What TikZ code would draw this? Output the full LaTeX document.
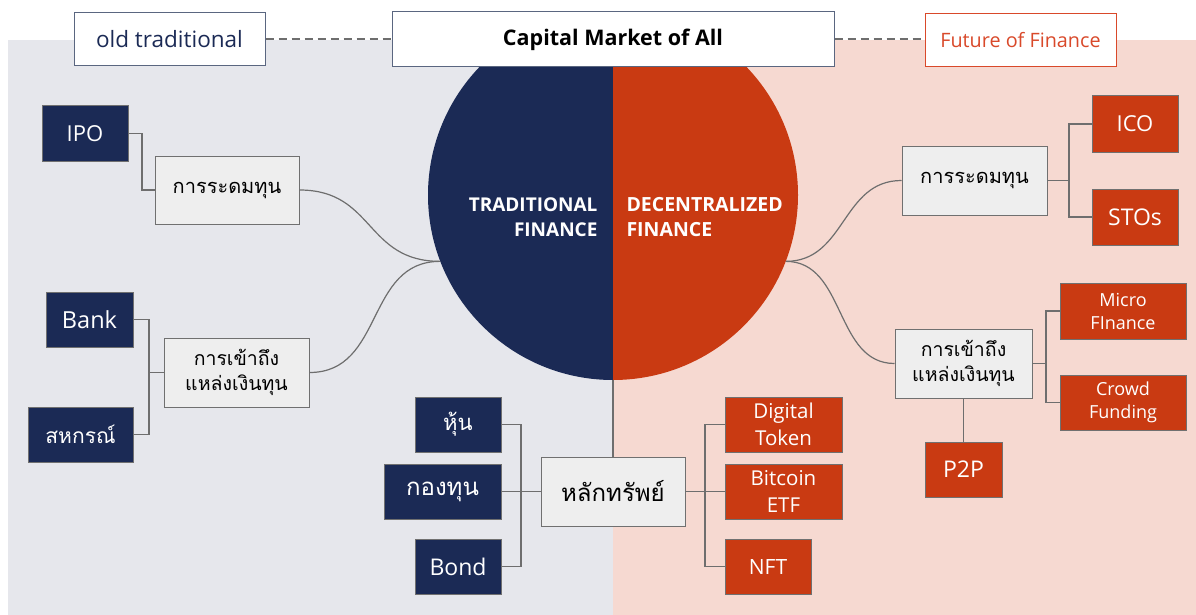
\documentclass[tikz,border=0pt]{standalone}
\usepackage{fontspec}
\setmainfont{Open Sans}
\newfontfamily\thai[Script=Thai]{Loma}
\definecolor{navy}{HTML}{1B2A55}
\definecolor{orangec}{HTML}{C93A12}
\definecolor{futorange}{HTML}{D9492A}
\definecolor{leftbg}{HTML}{E6E7EC}
\definecolor{rightbg}{HTML}{F6D9D1}
\definecolor{lightbox}{HTML}{EEEEEE}
\definecolor{bordergray}{HTML}{707070}
\definecolor{conngray}{HTML}{6E6E6E}
\definecolor{headborder}{HTML}{5A6680}
\begin{document}
\begin{tikzpicture}[x=1pt,y=-1pt,
  box/.style={draw=bordergray, line width=1pt, inner sep=0pt, align=center},
  navybox/.style={box, fill=navy, text=white},
  orangebox/.style={box, fill=orangec, text=white},
  graybox/.style={box, fill=lightbox, text=black},
  headbox/.style={draw=headborder, line width=1pt, fill=white, inner sep=0pt, align=center},
  conn/.style={draw=conngray, line width=1.2pt},
  dashconn/.style={draw=conngray, line width=2pt, dash pattern=on 8pt off 5pt},
  sz/.style 2 args={minimum width=#1pt, minimum height=#2pt},
  lat/.style 2 args={font=\fontsize{#1}{#2}\selectfont},
  th/.style 2 args={font=\thai\fontsize{#1}{#2}\selectfont}
]
\useasboundingbox (0,0) rectangle (1196,615);
% backgrounds
\fill[leftbg] (8,40) rectangle (613,615);
\fill[rightbg] (613,40) rectangle (1196,615);

% hub circle
\node[circle, minimum size=370pt, inner sep=0pt] (hub) at (613,195) {};
\begin{scope}
  \clip (400,30) rectangle (613,615);
  \fill[navy] (hub.center) circle[radius=185pt];
\end{scope}
\begin{scope}
  \clip (613,30) rectangle (820,615);
  \fill[orangec] (hub.center) circle[radius=185pt];
\end{scope}
\node[anchor=east, align=right, text=white, font=\bfseries\fontsize{19}{25}\selectfont] (tf) at (601,217) {TRADITIONAL\\FINANCE};
\node[anchor=west, align=left, text=white, font=\bfseries\fontsize{19.5}{25}\selectfont] (df) at (623,217) {DECENTRALIZED\\FINANCE};

% header
\node[headbox, sz={191}{53}, text=navy, font=\fontsize{22.5}{26}\selectfont] (old) at (169.5,39.5) {old traditional};
\node[headbox, sz={442}{55}, text=black, font=\bfseries\fontsize{21.5}{26}\selectfont] (cap) at (613,39.5) {Capital Market of All};
\node[headbox, draw=futorange, sz={191}{53}, text=futorange, font=\fontsize{19.8}{24}\selectfont] (fut) at (1020.5,40.5) {Future of Finance};
\draw[dashconn] (old.east) -- (cap.west);
\draw[dashconn] (cap.east) -- (fut.west |- cap.east);

% left nodes
\node[navybox, sz={86}{55}, lat={22}{27}] (ipo) at (85,133.5) {IPO};
\node[graybox, sz={144}{68}, th={20}{25}] (raiseL) at (227,190) {การระดมทุน};
\node[navybox, sz={87}{55}, lat={23.5}{27}] (bank) at (89.5,319.5) {Bank};
\node[navybox, sz={105}{55}, th={21}{26}] (coop) at (80.5,434.5) {สหกรณ์};
\node[graybox, sz={145}{69}, th={19.5}{25}] (accessL) at (236.5,372.5) {การเข้าถึง\\แหล่งเงินทุน};

% bottom nodes
\node[navybox, sz={86}{55}, th={22}{27}] (stock) at (458,424.5) {หุ้น};
\node[navybox, sz={117}{55}, th={24}{27}] (fund) at (442.5,491.5) {กองทุน};
\node[navybox, sz={86}{55}, lat={23}{26}] (bond) at (458,566.5) {Bond};
\node[graybox, sz={144}{69}, th={24}{28}] (sec) at (613,491.5) {หลักทรัพย์};
\node[orangebox, sz={117}{55}, lat={20.5}{27}] (dtoken) at (783.5,424.5) {Digital\\Token};
\node[orangebox, sz={117}{55}, lat={20.5}{27}] (btc) at (783.5,491.5) {Bitcoin\\ETF};
\node[orangebox, sz={86}{55}, lat={21}{24}] (nft) at (768,566.5) {NFT};

% right nodes
\node[graybox, sz={145}{69}, th={20}{25}] (raiseR) at (974.5,180.5) {การระดมทุน};
\node[orangebox, sz={86}{56}, lat={22}{27}] (ico) at (1135,124) {ICO};
\node[orangebox, sz={86}{56}, lat={23}{27}] (sto) at (1135,217) {STOs};
\node[graybox, sz={137}{69}, th={19.5}{25}] (accessR) at (963.5,363.5) {การเข้าถึง\\แหล่งเงินทุน};
\node[orangebox, sz={126}{56}, lat={18}{23}] (micro) at (1123,311) {Micro\\FInance};
\node[orangebox, sz={126}{55}, lat={18}{23}] (crowd) at (1123,402.5) {Crowd\\Funding};
\node[orangebox, sz={77}{55}, lat={23}{25}] (p2p) at (963.5,469.5) {P2P};

% junction coordinates
\coordinate (jL1) at (142,190);
\coordinate (jL2) at (149,372.5);
\coordinate (jB1) at (521,491.5);
\coordinate (jB2) at (705,491.5);
\coordinate (jR1) at (1069,180.5);
\coordinate (jR2) at (1046,363.5);

% connectors
\draw[conn] (ipo.east) -| (jL1) -- (raiseL.west);
\draw[conn] (bank.east) -| (jL2) |- (coop.east);
\draw[conn] (jL2) -- (accessL.west);
\draw[conn] (stock.east) -| (jB1) |- (bond.east);
\draw[conn] (fund.east) -- (sec.west);
\draw[conn] (hub.south) -- (sec.north);
\draw[conn] (sec.east) -- (btc.west);
\draw[conn] (dtoken.west) -| (jB2) |- (nft.west);
\draw[conn] (raiseR.east) -- (jR1);
\draw[conn] (ico.west) -| (jR1) |- (sto.west);
\draw[conn] (accessR.east) -- (jR2);
\draw[conn] (micro.west) -| (jR2) |- (crowd.west);
\draw[conn] (accessR.south) -- (p2p.north);
\draw[conn] (raiseL.east) .. controls +(75,0) and +(-75,0) .. (hub.201);
\draw[conn] (accessL.east) .. controls +(75,0) and +(-75,0) .. (hub.201);
\draw[conn] (hub.-21) .. controls +(60,0) and +(-60,0) .. (raiseR.west);
\draw[conn] (hub.-21) .. controls +(60,0) and +(-60,0) .. (accessR.west);
\end{tikzpicture}
\end{document}
